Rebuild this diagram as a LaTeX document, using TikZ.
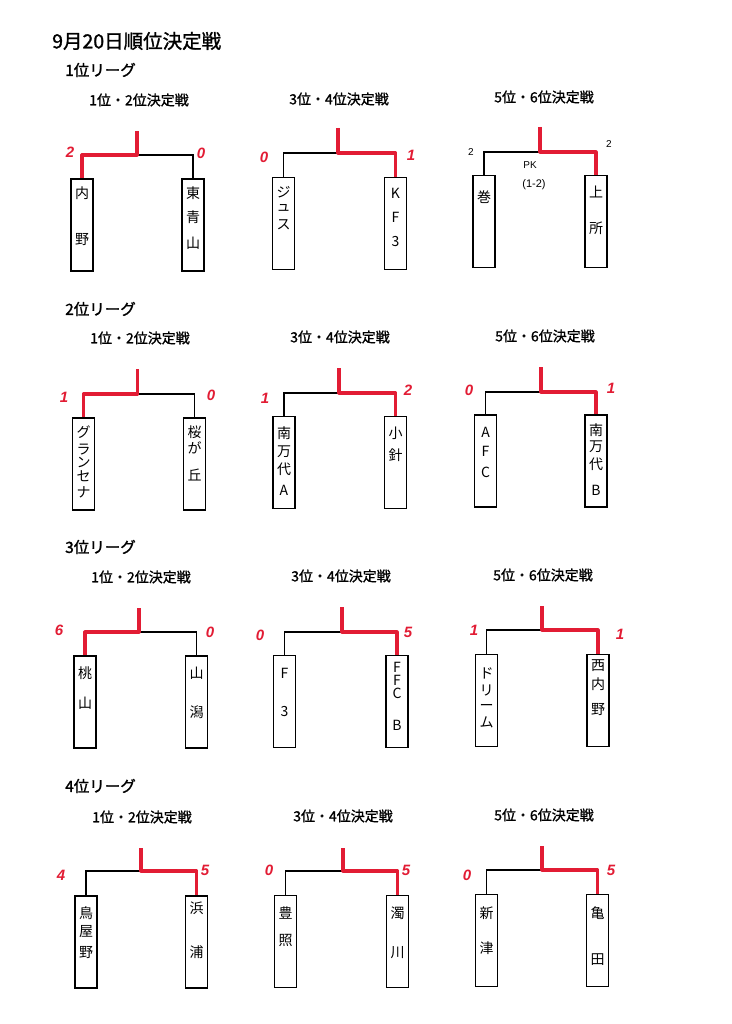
\documentclass[tikz,border=0pt]{standalone}
\usepackage{fontspec}
\setmainfont{Liberation Sans}
\newfontfamily\jp{Noto Sans CJK JP}
\newfontfamily\jpb{Noto Sans CJK JP}[FakeBold=1.3]
\definecolor{scorered}{RGB}{226,28,52}
\newcommand{\mybracket}[8]{%
  \node[teambox] (#1L) at (#2,#4+46) {};
  \node[teambox] (#1R) at (#3,#4+46) {};
  \coordinate (#1T) at (#6,#7);
  \coordinate (#1J) at (#6,#5);
  \draw[bline] (#1T) -- (#1J);
  \draw[bline] (#1L.north) |- (#1J) -| (#1R.north);
  \draw[rline] (#1T) -- (#1J) -| (#1#8.north);
}
\begin{document}
\begin{tikzpicture}[x=1pt,y=-1pt,
  bline/.style={line width=1.3pt,black},
  rline/.style={line width=3.2pt,scorered,line join=round},
  teambox/.style={draw,line width=1.1pt,minimum width=22pt,minimum height=92pt,inner sep=0pt},
  teamch/.style={font=\jp\fontsize{14}{14}\selectfont,inner sep=0pt},
  score/.style={font=\bfseries\itshape\fontsize{15}{15}\selectfont,text=scorered,inner sep=0pt},
  smallhand/.style={font=\fontsize{10}{10}\selectfont,inner sep=0pt},
  titlefont/.style={font=\jpb\fontsize{19.5}{19.5}\selectfont,inner sep=0pt,anchor=west},
  leaguefont/.style={font=\jpb\fontsize{15.5}{15.5}\selectfont,inner sep=0pt,anchor=west},
  subfont/.style={font=\jpb\fontsize{14}{14}\selectfont,inner sep=0pt}]
\useasboundingbox[fill=white] (0,0) rectangle (731,1024);

% headings
\node[titlefont] (title) at (52,41) {9月20日順位決定戦};
\node[leaguefont] (lg1) at (65,70) {1位リーグ};
\node[leaguefont] (lg2) at (65,309) {2位リーグ};
\node[leaguefont] (lg3) at (65,547) {3位リーグ};
\node[leaguefont] (lg4) at (65,786) {4位リーグ};

\node[subfont] (s11) at (139,100) {1位・2位決定戦};
\node[subfont] (s12) at (339,99) {3位・4位決定戦};
\node[subfont] (s13) at (544,97) {5位・6位決定戦};
\node[subfont] (s21) at (140,338) {1位・2位決定戦};
\node[subfont] (s22) at (340,337) {3位・4位決定戦};
\node[subfont] (s23) at (545,336) {5位・6位決定戦};
\node[subfont] (s31) at (141,577) {1位・2位決定戦};
\node[subfont] (s32) at (341,576) {3位・4位決定戦};
\node[subfont] (s33) at (543,575) {5位・6位決定戦};
\node[subfont] (s41) at (142,817) {1位・2位決定戦};
\node[subfont] (s42) at (343,816) {3位・4位決定戦};
\node[subfont] (s43) at (544,815) {5位・6位決定戦};

% brackets: id, Lx, Rx, box top, junction y, stub x, stub top, winner
\mybracket{B11}{82}{193}{179}{155}{137}{131}{L}
\mybracket{B12}{283.5}{395.5}{177.5}{153}{338}{128}{R}
\mybracket{B13}{484}{596}{175.5}{152}{540}{127}{R}
\mybracket{B21}{83.5}{194.5}{418}{394}{137.5}{369}{L}
\mybracket{B22}{284}{395.5}{416.5}{393}{339}{368}{R}
\mybracket{B23}{485.5}{596}{415}{392}{541}{367}{R}
\mybracket{B31}{85}{196.5}{656}{632}{139}{608}{L}
\mybracket{B32}{284.5}{397}{655.5}{632}{342}{607}{R}
\mybracket{B33}{486.5}{598}{654.5}{630}{542}{606}{R}
\mybracket{B41}{86}{196.5}{896}{871}{141}{848}{R}
\mybracket{B42}{285.5}{397.5}{895.5}{871}{343}{848}{R}
\mybracket{B43}{486.5}{597.5}{894.5}{870}{542}{846}{R}

% scores
\node[score] (B11Ls) at (70,152) {2};
\node[score] (B11Rs) at (201,153) {0};
\node[score] (B12Ls) at (264,157) {0};
\node[score] (B12Rs) at (411,155) {1};
\node[smallhand] (B13Ls) at (471,152) {2};
\node[smallhand] (B13Rs) at (609,144) {2};
\node[smallhand] (pk) at (530,165) {PK};
\node[smallhand,font=\fontsize{11}{11}\selectfont] (pkres) at (534,185) {(1-2)};
\node[score] (B21Ls) at (64,397) {1};
\node[score] (B21Rs) at (211,395) {0};
\node[score] (B22Ls) at (265,398) {1};
\node[score] (B22Rs) at (408,390) {2};
\node[score] (B23Ls) at (469,390) {0};
\node[score] (B23Rs) at (611,388) {1};
\node[score] (B31Ls) at (59,630) {6};
\node[score] (B31Rs) at (210,632) {0};
\node[score] (B32Ls) at (260,635) {0};
\node[score] (B32Rs) at (408,632) {5};
\node[score] (B33Ls) at (474,630) {1};
\node[score] (B33Rs) at (620,634) {1};
\node[score] (B41Ls) at (61,875) {4};
\node[score] (B41Rs) at (205,870) {5};
\node[score] (B42Ls) at (269,870) {0};
\node[score] (B42Rs) at (406,870) {5};
\node[score] (B43Ls) at (467,875) {0};
\node[score] (B43Rs) at (611,870) {5};

% team names (stacked vertically)
\foreach \c/\yy [count=\i] in {内/193,野/240} \node[teamch] (B11Lc\i) at (82,\yy) {\c};
\foreach \c/\yy [count=\i] in {東/193,青/217,山/243} \node[teamch] (B11Rc\i) at (193,\yy) {\c};
\foreach \c/\yy [count=\i] in {ジ/192,ュ/208,ス/225} \node[teamch] (B12Lc\i) at (283.5,\yy) {\c};
\foreach \c/\yy [count=\i] in {K/193,F/217,3/242} \node[teamch] (B12Rc\i) at (395.5,\yy) {\c};
\foreach \c/\yy [count=\i] in {巻/197} \node[teamch] (B13Lc\i) at (484,\yy) {\c};
\foreach \c/\yy [count=\i] in {上/192,所/228} \node[teamch] (B13Rc\i) at (596,\yy) {\c};

\foreach \c/\yy [count=\i] in {グ/432,ラ/450,ン/462,セ/476,ナ/492} \node[teamch] (B21Lc\i) at (83.5,\yy) {\c};
\foreach \c/\yy [count=\i] in {桜/432,が/448,丘/475} \node[teamch] (B21Rc\i) at (194.5,\yy) {\c};
\foreach \c/\yy [count=\i] in {南/433,万/452,代/469,A/490} \node[teamch] (B22Lc\i) at (284,\yy) {\c};
\foreach \c/\yy [count=\i] in {小/433,針/455} \node[teamch] (B22Rc\i) at (395.5,\yy) {\c};
\foreach \c/\yy [count=\i] in {A/432,F/451,C/472} \node[teamch] (B23Lc\i) at (485.5,\yy) {\c};
\foreach \c/\yy [count=\i] in {南/430,万/447,代/464,B/490} \node[teamch] (B23Rc\i) at (596,\yy) {\c};

\foreach \c/\yy [count=\i] in {桃/673,山/703} \node[teamch] (B31Lc\i) at (85,\yy) {\c};
\foreach \c/\yy [count=\i] in {山/673,潟/712} \node[teamch] (B31Rc\i) at (196.5,\yy) {\c};
\foreach \c/\yy [count=\i] in {F/673,3/712} \node[teamch] (B32Lc\i) at (284.5,\yy) {\c};
\foreach \c/\yy [count=\i] in {F/667,F/680,C/693,B/725} \node[teamch] (B32Rc\i) at (397,\yy) {\c};
\foreach \c/\yy [count=\i] in {ド/673,リ/690,ー/707,ム/722} \node[teamch] (B33Lc\i) at (486.5,\yy) {\c};
\foreach \c/\yy [count=\i] in {西/666,内/684,野/710} \node[teamch] (B33Rc\i) at (598,\yy) {\c};

\foreach \c/\yy [count=\i] in {鳥/913,屋/932,野/952} \node[teamch] (B41Lc\i) at (86,\yy) {\c};
\foreach \c/\yy [count=\i] in {浜/908,浦/952} \node[teamch] (B41Rc\i) at (196.5,\yy) {\c};
\foreach \c/\yy [count=\i] in {豊/913,照/940} \node[teamch] (B42Lc\i) at (285.5,\yy) {\c};
\foreach \c/\yy [count=\i] in {濁/913,川/953} \node[teamch] (B42Rc\i) at (397.5,\yy) {\c};
\foreach \c/\yy [count=\i] in {新/913,津/948} \node[teamch] (B43Lc\i) at (486.5,\yy) {\c};
\foreach \c/\yy [count=\i] in {亀/913,田/960} \node[teamch] (B43Rc\i) at (597.5,\yy) {\c};
\end{tikzpicture}
\end{document}
